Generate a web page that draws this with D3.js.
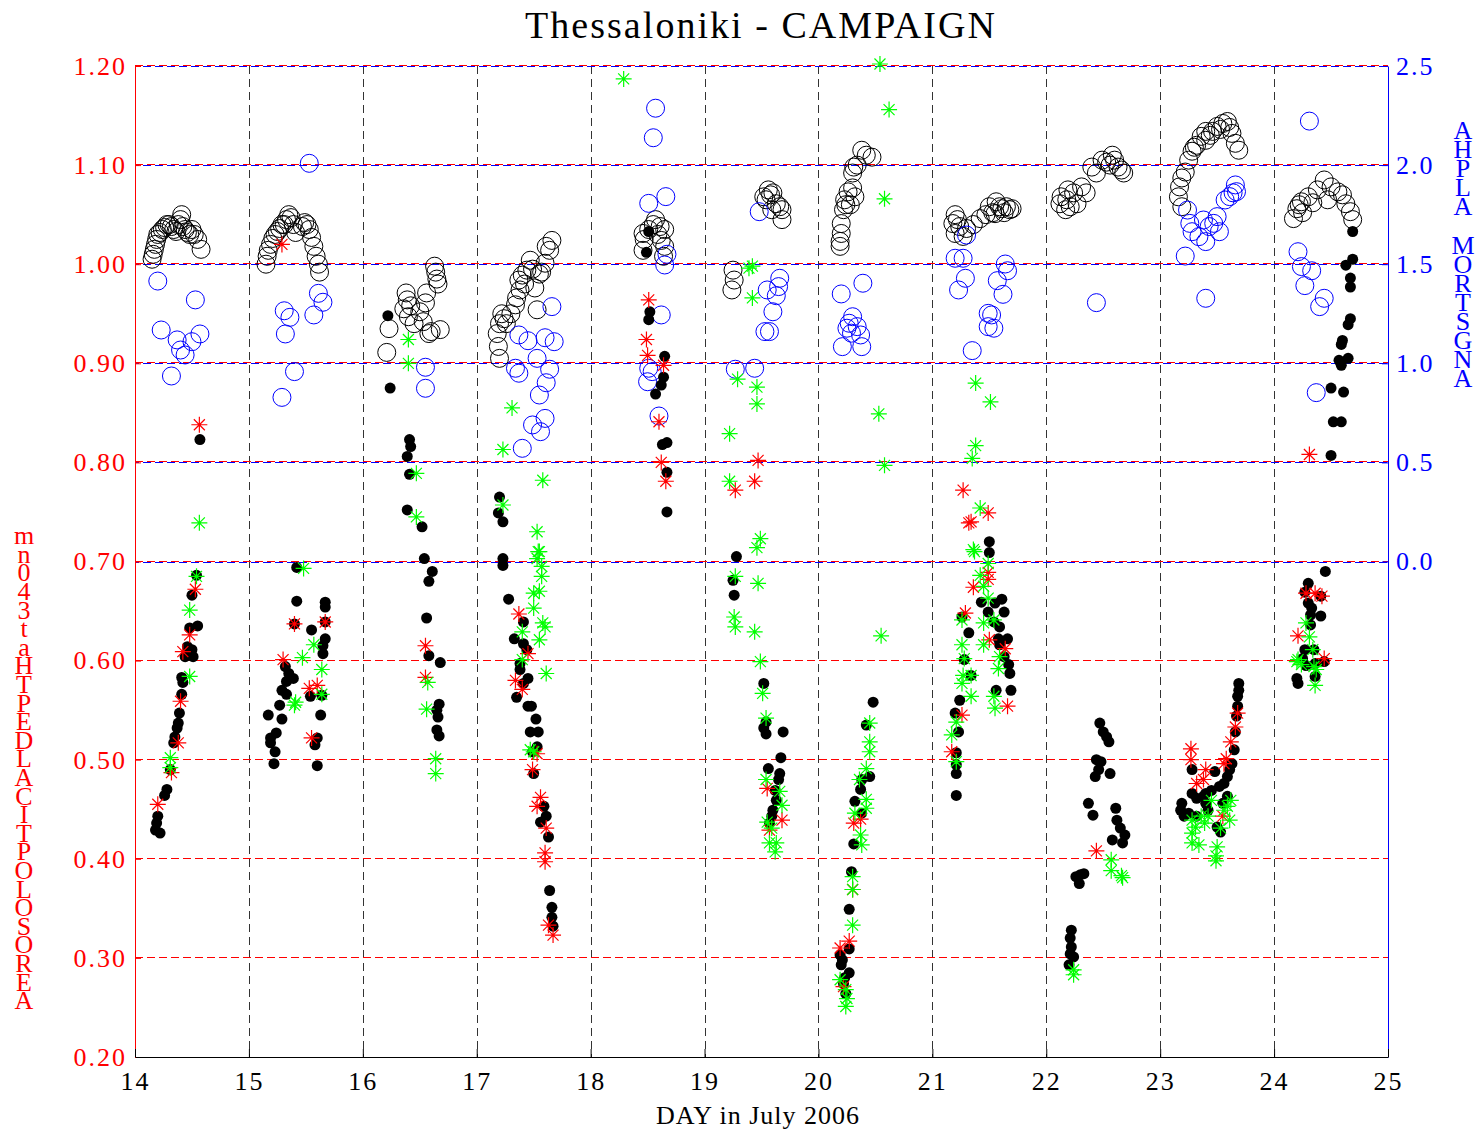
<!DOCTYPE html>
<html>
<head>
<meta charset="utf-8">
<script src="https://cdn.jsdelivr.net/npm/d3@7"></script>
<style>
  body { margin: 0; background: #fff; }
  svg { display: block; }
  text { font-family: "Liberation Serif", "Times New Roman", serif; }
</style>
</head>
<body>
<div id="container"></div>
<script>
// tick values
var dayTicks = [14, 15, 16, 17, 18, 19, 20, 21, 22, 23, 24, 25];
var aodTicks = [0.2, 0.3, 0.4, 0.5, 0.6, 0.7, 0.8, 0.9, 1.0, 1.1, 1.2];
var alphaTicks = [0.0, 0.5, 1.0, 1.5, 2.0, 2.5];

// black open circles [day, value] (left axis)
var aodOpen = [
  [14.15,1.005],[14.16,1.01],[14.17,1.015],[14.18,1.02],[14.19,1.025],[14.20,1.03],[14.22,1.032],[14.24,1.035],[14.26,1.037],[14.28,1.04],[14.30,1.04],[14.32,1.038],[14.34,1.035],[14.36,1.033],[14.38,1.04],[14.40,1.045],[14.41,1.05],[14.42,1.038],[14.44,1.035],[14.46,1.032],[14.48,1.03],[14.50,1.035],[14.52,1.03],[14.55,1.025],[14.58,1.015],
  [15.15,1.0],[15.16,1.008],[15.17,1.014],[15.19,1.02],[15.21,1.026],[15.23,1.03],[15.25,1.033],[15.27,1.036],[15.29,1.04],[15.31,1.04],[15.33,1.045],[15.35,1.05],[15.37,1.047],[15.39,1.04],[15.41,1.032],[15.47,1.038],[15.49,1.042],[15.51,1.04],[15.53,1.035],[15.55,1.027],[15.57,1.018],[15.59,1.008],[15.61,1.0],[15.62,0.992],
  [16.21,0.911],[16.23,0.935],[16.36,0.955],[16.38,0.971],[16.39,0.964],[16.40,0.947],[16.42,0.958],[16.45,0.94],[16.50,0.952],[16.53,0.942],[16.55,0.961],[16.56,0.971],[16.58,0.93],[16.60,0.932],[16.63,0.998],[16.64,0.992],[16.65,0.985],[16.66,0.98],[16.68,0.934],
  [17.18,0.93],[17.19,0.917],[17.20,0.905],[17.20,0.94],[17.22,0.95],[17.24,0.945],[17.26,0.94],[17.30,0.95],[17.34,0.959],[17.35,0.966],[17.37,0.984],[17.38,0.974],[17.40,0.989],[17.42,0.98],[17.44,0.994],[17.47,1.004],[17.49,0.995],[17.51,0.976],[17.53,0.954],[17.55,0.99],[17.57,0.992],[17.60,1.001],[17.61,1.018],[17.64,1.014],[17.66,1.024],
  [18.46,1.031],[18.47,1.025],[18.46,1.014],[18.51,1.035],[18.55,1.04],[18.57,1.045],[18.59,1.03],[18.61,1.038],[18.65,1.035],[18.62,1.024],[18.65,1.018],[18.64,1.008],
  [19.24,0.974],[19.25,0.994],[19.26,0.984],[19.52,1.068],[19.54,1.065],[19.56,1.075],[19.58,1.07],[19.59,1.055],[19.60,1.072],[19.63,1.061],[19.66,1.058],[19.68,1.055],[19.68,1.045],
  [20.19,1.023],[20.19,1.018],[20.20,1.031],[20.20,1.041],[20.22,1.055],[20.23,1.065],[20.24,1.06],[20.26,1.073],[20.28,1.06],[20.30,1.077],[20.32,1.068],[20.30,1.092],[20.31,1.098],[20.34,1.1],[20.38,1.115],[20.42,1.11],[20.47,1.108],
  [21.18,1.041],[21.20,1.05],[21.20,1.031],[21.22,1.045],[21.24,1.038],[21.27,1.028],[21.30,1.036],[21.36,1.04],[21.42,1.046],[21.47,1.05],[21.50,1.058],[21.53,1.052],[21.55,1.051],[21.56,1.063],[21.59,1.058],[21.61,1.056],[21.63,1.052],[21.65,1.058],[21.68,1.055],[21.70,1.056],
  [22.12,1.061],[22.13,1.068],[22.17,1.055],[22.18,1.065],[22.19,1.075],[22.21,1.058],[22.24,1.072],[22.27,1.061],[22.31,1.078],[22.35,1.072],[22.40,1.098],[22.44,1.092],[22.49,1.105],[22.53,1.103],[22.56,1.1],[22.58,1.11],[22.60,1.105],[22.63,1.098],[22.66,1.095],[22.68,1.092],
  [23.16,1.068],[23.17,1.078],[23.19,1.058],[23.19,1.087],[23.22,1.093],[23.25,1.105],[23.28,1.114],[23.30,1.118],[23.32,1.12],[23.36,1.129],[23.40,1.134],[23.40,1.125],[23.44,1.13],[23.46,1.134],[23.50,1.139],[23.53,1.136],[23.55,1.142],[23.59,1.144],[23.61,1.138],[23.63,1.132],[23.66,1.122],[23.69,1.115],
  [24.17,1.046],[24.20,1.056],[24.22,1.06],[24.24,1.063],[24.25,1.052],[24.30,1.068],[24.34,1.062],[24.38,1.075],[24.44,1.085],[24.47,1.065],[24.50,1.078],[24.56,1.073],[24.60,1.07],[24.63,1.061],[24.67,1.053],[24.69,1.045]
];

// blue open circles [day, alpha] (right axis)
var alpha = [
  [14.20,1.415],[14.53,1.32],[14.23,1.168],[14.37,1.118],[14.40,1.067],[14.44,1.042],[14.50,1.109],[14.57,1.148],[14.32,0.936],
  [15.53,2.009],[15.31,1.265],[15.36,1.232],[15.32,1.148],[15.61,1.353],[15.65,1.308],[15.57,1.244],[15.40,0.958],[15.29,0.828],
  [16.55,0.98],[16.55,0.874],
  [17.66,1.286],[17.37,1.143],[17.45,1.114],[17.60,1.129],[17.68,1.109],[17.53,1.025],[17.34,0.975],[17.37,0.95],[17.64,0.97],[17.61,0.902],[17.55,0.84],[17.60,0.722],[17.49,0.689],[17.56,0.655],[17.40,0.571],
  [18.57,2.287],[18.55,2.138],[18.51,1.807],[18.66,1.841],[18.67,1.55],[18.65,1.496],[18.62,1.244],[18.51,0.975],[18.54,0.958],[18.50,0.907],[18.60,0.734],
  [19.48,1.765],[19.66,1.429],[19.55,1.37],[19.65,1.387],[19.63,1.341],[19.60,1.26],[19.53,1.16],[19.57,1.16],[19.27,0.97],[19.44,0.975],
  [20.39,1.404],[20.20,1.35],[20.30,1.235],[20.27,1.202],[20.34,1.185],[20.25,1.177],[20.37,1.143],[20.29,1.152],[20.21,1.084],[20.38,1.084],
  [21.30,1.647],[21.20,1.53],[21.27,1.53],[21.29,1.429],[21.23,1.37],[21.64,1.501],[21.66,1.467],[21.57,1.417],[21.62,1.348],[21.49,1.252],[21.52,1.244],[21.49,1.185],[21.54,1.177],[21.35,1.064],
  [22.44,1.306],
  [23.22,1.541],[23.24,1.773],[23.26,1.706],[23.28,1.664],[23.34,1.639],[23.40,1.614],[23.38,1.723],[23.43,1.69],[23.47,1.706],[23.52,1.664],[23.50,1.74],[23.57,1.824],[23.61,1.841],[23.64,1.86],[23.66,1.9],[23.67,1.866],[23.40,1.328],
  [24.31,2.222],[24.21,1.563],[24.24,1.488],[24.33,1.467],[24.27,1.392],[24.44,1.328],[24.40,1.286],[24.37,0.852]
];

// black filled dots [day, aod]
var aod340 = [
  [14.57,0.823],[14.54,0.686],[14.50,0.666],[14.48,0.633],[14.55,0.635],[14.46,0.614],[14.50,0.611],[14.51,0.604],[14.44,0.604],[14.41,0.583],[14.42,0.578],[14.41,0.566],[14.39,0.547],[14.38,0.537],[14.37,0.532],[14.35,0.523],[14.34,0.517],[14.31,0.49],[14.28,0.47],[14.26,0.464],[14.20,0.443],[14.19,0.436],[14.18,0.429],[14.22,0.426],
  [15.42,0.694],[15.42,0.66],[15.67,0.659],[15.67,0.654],[15.40,0.637],[15.67,0.639],[15.55,0.631],[15.67,0.622],[15.65,0.615],[15.65,0.607],[15.32,0.594],[15.35,0.587],[15.39,0.582],[15.33,0.579],[15.29,0.57],[15.54,0.564],[15.64,0.565],[15.33,0.566],[15.27,0.555],[15.17,0.545],[15.63,0.545],[15.29,0.541],[15.24,0.527],[15.19,0.522],[15.19,0.517],[15.60,0.522],[15.58,0.515],[15.23,0.508],[15.22,0.496],[15.60,0.494],
  [16.22,0.948],[16.24,0.875],[16.41,0.823],[16.42,0.816],[16.39,0.806],[16.41,0.788],[16.39,0.752],[16.52,0.735],[16.54,0.703],[16.61,0.69],[16.58,0.68],[16.56,0.643],[16.58,0.605],[16.68,0.598],[16.67,0.556],[16.65,0.55],[16.66,0.543],[16.65,0.53],[16.67,0.524],
  [17.20,0.765],[17.19,0.749],[17.23,0.74],[17.23,0.703],[17.23,0.696],[17.28,0.662],[17.41,0.639],[17.33,0.622],[17.41,0.617],[17.44,0.611],[17.38,0.597],[17.38,0.591],[17.45,0.582],[17.41,0.577],[17.35,0.563],[17.45,0.554],[17.48,0.554],[17.52,0.541],[17.47,0.528],[17.54,0.528],[17.53,0.513],[17.49,0.508],[17.50,0.486],[17.59,0.453],[17.61,0.443],[17.56,0.437],[17.63,0.422],[17.64,0.368],[17.66,0.351],[17.66,0.341],[17.67,0.332],
  [18.51,1.033],[18.49,1.012],[18.52,0.952],[18.51,0.944],[18.65,0.907],[18.64,0.886],[18.62,0.878],[18.57,0.869],[18.67,0.82],[18.63,0.818],[18.67,0.79],[18.67,0.75],
  [19.28,0.705],[19.25,0.681],[19.26,0.666],[19.52,0.577],[19.54,0.538],[19.52,0.532],[19.54,0.526],[19.69,0.528],[19.67,0.502],[19.56,0.491],[19.66,0.486],[19.65,0.48],[19.62,0.469],[19.63,0.459],[19.60,0.449],[19.59,0.443],[19.57,0.436],
  [20.48,0.558],[20.42,0.535],[20.45,0.483],[20.38,0.48],[20.37,0.47],[20.32,0.458],[20.38,0.446],[20.31,0.415],[20.29,0.387],[20.27,0.349],[20.27,0.309],[20.19,0.303],[20.21,0.298],[20.20,0.293],[20.27,0.285],[20.23,0.28],[20.22,0.274],[20.24,0.264],
  [21.50,0.72],[21.50,0.709],[21.43,0.659],[21.55,0.658],[21.61,0.662],[21.63,0.649],[21.49,0.649],[21.54,0.639],[21.59,0.634],[21.58,0.622],[21.66,0.622],[21.59,0.616],[21.63,0.604],[21.67,0.596],[21.68,0.587],[21.56,0.57],[21.69,0.57],[21.26,0.644],[21.32,0.628],[21.28,0.601],[21.34,0.585],[21.24,0.56],[21.20,0.547],[21.23,0.528],[21.21,0.507],[21.21,0.495],[21.21,0.486],[21.21,0.464],
  [22.47,0.537],[22.50,0.528],[22.53,0.523],[22.55,0.518],[22.44,0.5],[22.48,0.498],[22.46,0.49],[22.43,0.483],[22.56,0.486],[22.37,0.456],[22.41,0.444],[22.61,0.451],[22.62,0.439],[22.65,0.431],[22.69,0.424],[22.58,0.419],[22.67,0.416],[22.26,0.382],[22.30,0.384],[22.29,0.375],[22.33,0.385],[22.22,0.328],[22.21,0.32],[22.22,0.311],[22.21,0.304],[22.24,0.301],[22.20,0.293],
  [23.69,0.577],[23.69,0.57],[23.68,0.564],[23.68,0.554],[23.67,0.544],[23.66,0.528],[23.65,0.51],[23.63,0.496],[23.61,0.49],[23.59,0.483],[23.56,0.476],[23.52,0.473],[23.48,0.488],[23.45,0.469],[23.40,0.466],[23.38,0.463],[23.32,0.461],[23.28,0.49],[23.28,0.466],[23.19,0.456],[23.18,0.449],[23.21,0.443],[23.25,0.446],[23.32,0.443],[23.55,0.456],[23.59,0.463],[23.50,0.432],[23.53,0.427],[23.42,0.449],[23.40,0.456],
  [24.69,1.033],[24.69,1.005],[24.63,0.999],[24.67,0.986],[24.67,0.977],[24.67,0.945],[24.65,0.939],[24.60,0.923],[24.59,0.919],[24.57,0.903],[24.65,0.905],[24.59,0.898],[24.50,0.875],[24.61,0.871],[24.52,0.841],[24.59,0.841],[24.50,0.807],
  [24.45,0.69],[24.30,0.678],[24.27,0.669],[24.41,0.665],[24.30,0.658],[24.33,0.653],[24.32,0.646],[24.41,0.645],[24.32,0.636],[24.27,0.611],[24.35,0.611],[24.25,0.602],[24.36,0.597],[24.44,0.599],[24.28,0.595],[24.36,0.584],[24.20,0.582],[24.21,0.577]
];

// red asterisks [day, aod]
var aodRed = [
  [14.565,0.838],[14.53,0.672],[14.48,0.626],[14.42,0.609],[14.40,0.559],[14.38,0.517],[14.32,0.487],[14.20,0.455],
  [15.29,1.02],[15.40,0.637],[15.30,0.601],[15.53,0.572],[15.67,0.639],[15.55,0.522],[15.60,0.575],
  [16.55,0.615],[16.55,0.583],
  [17.37,0.647],[17.45,0.607],[17.34,0.58],[17.40,0.571],[17.53,0.506],[17.49,0.49],[17.56,0.462],[17.53,0.453],[17.61,0.431],[17.60,0.406],[17.60,0.397],[17.63,0.333],[17.67,0.323],
  [18.51,0.964],[18.49,0.924],[18.50,0.908],[18.64,0.898],[18.60,0.841],[18.62,0.8],[18.66,0.781],
  [19.47,0.802],[19.27,0.772],[19.44,0.781],[19.55,0.471],[19.68,0.439],[19.57,0.429],
  [20.31,0.436],[20.37,0.44],[20.30,0.369],[20.27,0.317],[20.19,0.31],[20.22,0.271],
  [21.27,0.772],[21.49,0.749],[21.32,0.739],[21.34,0.74],[21.49,0.689],[21.49,0.682],[21.36,0.674],[21.29,0.648],[21.50,0.621],[21.64,0.612],[21.17,0.508],[21.66,0.554],[21.26,0.545],
  [22.44,0.408],
  [23.27,0.511],[23.27,0.5],[23.40,0.49],[23.38,0.48],[23.32,0.476],[23.56,0.496],[23.58,0.501],[23.62,0.518],[23.66,0.533],[23.68,0.547],[23.55,0.443],
  [24.31,0.808],[24.21,0.625],[24.28,0.668],[24.36,0.668],[24.42,0.665],[24.44,0.602]
];

// green asterisks [day, aod]
var aodGreen = [
  [14.565,0.739],[14.54,0.685],[14.48,0.651],[14.48,0.584],[14.31,0.502],[14.31,0.492],
  [15.48,0.693],[15.57,0.616],[15.47,0.603],[15.64,0.591],[15.64,0.566],[15.40,0.555],[15.41,0.558],
  [16.40,0.924],[16.40,0.9],[16.47,0.789],[16.47,0.745],[16.57,0.578],[16.56,0.551],[16.64,0.501],[16.64,0.486],
  [17.31,0.855],[17.23,0.813],[17.58,0.782],[17.23,0.757],[17.53,0.73],[17.55,0.71],[17.54,0.71],[17.53,0.703],[17.57,0.695],[17.57,0.685],[17.55,0.67],[17.50,0.668],[17.50,0.653],[17.58,0.638],[17.60,0.634],[17.55,0.621],[17.40,0.629],[17.40,0.601],[17.61,0.587],[17.47,0.51],[17.50,0.508],
  [18.29,1.187],
  [19.39,0.996],[19.42,0.998],[19.42,0.966],[19.29,0.884],[19.46,0.876],[19.46,0.859],[19.22,0.829],[19.22,0.781],[19.49,0.723],[19.46,0.714],[19.27,0.685],[19.47,0.678],[19.26,0.644],[19.27,0.634],[19.44,0.629],[19.49,0.599],[19.51,0.567],[19.54,0.542],[19.54,0.48],[19.66,0.468],[19.68,0.454],[19.55,0.437],[19.59,0.431],[19.57,0.416],[19.63,0.416],[19.62,0.407],
  [20.54,1.202],[20.62,1.156],[20.58,1.066],[20.53,0.849],[20.58,0.797],[20.55,0.625],[20.45,0.537],[20.45,0.518],[20.45,0.508],[20.42,0.491],[20.36,0.48],[20.42,0.46],[20.42,0.451],[20.32,0.446],[20.37,0.424],[20.38,0.414],[20.30,0.382],[20.30,0.369],[20.30,0.333],[20.19,0.278],[20.24,0.268],[20.25,0.259],[20.24,0.251],
  [21.38,0.88],[21.51,0.861],[21.38,0.817],[21.35,0.804],[21.42,0.754],[21.36,0.712],[21.37,0.71],[21.49,0.698],[21.42,0.686],[21.45,0.675],[21.49,0.663],[21.54,0.641],[21.45,0.638],[21.26,0.641],[21.45,0.616],[21.26,0.616],[21.59,0.604],[21.28,0.602],[21.58,0.592],[21.27,0.585],[21.34,0.585],[21.26,0.577],[21.34,0.564],[21.54,0.564],[21.55,0.552],[21.21,0.538],[21.17,0.525],[21.21,0.498],
  [22.57,0.399],[22.57,0.388],[22.67,0.381],[22.66,0.383],[22.24,0.288],[22.24,0.283],
  [23.45,0.459],[23.28,0.439],[23.31,0.432],[23.36,0.443],[23.39,0.436],[23.42,0.443],[23.28,0.426],[23.28,0.416],[23.34,0.414],[23.56,0.449],[23.59,0.453],[23.62,0.459],[23.61,0.439],[23.53,0.431],[23.50,0.412],[23.49,0.403],[23.49,0.398],
  [24.28,0.638],[24.31,0.624],[24.20,0.599],[24.24,0.596],[24.34,0.611],[24.35,0.594],[24.37,0.591],[24.36,0.575],[24.21,0.601]
];

var width = 1477,
    height = 1132;

var svg = d3.select("div#container")
    .append("svg")
    .attr("width", width)
    .attr("height", height);

var x = d3.scaleLinear().domain([14, 25]).range([135, 1388]);
var yL = d3.scaleLinear().domain([0.2, 1.2]).range([1057, 66]);
var yR = d3.scaleLinear().domain([-2.5, 2.5]).range([1057, 66]);

var plotTop = yL.range()[1],
    plotBottom = yL.range()[0];

//vertical day grid
svg.append("g").selectAll("line")
    .data(dayTicks.slice(1, -1))
    .enter().append("line")
    .attr("x1", d => Math.round(x(d)) + 0.5).attr("x2", d => Math.round(x(d)) + 0.5)
    .attr("y1", plotTop).attr("y2", plotBottom)
    .attr("stroke", "#333")
    .attr("stroke-dasharray", "8,5");

//red grid (left axis)
svg.append("g").selectAll("line")
    .data(aodTicks.slice(1))
    .enter().append("line")
    .attr("x1", x(14)).attr("x2", x(25))
    .attr("y1", d => Math.round(yL(d)) - 0.5)
    .attr("y2", d => Math.round(yL(d)) - 0.5)
    .attr("stroke", "#ff0000")
    .attr("stroke-dasharray", "8,4");

//blue grid (right axis)
svg.append("g").selectAll("line")
    .data(alphaTicks)
    .enter().append("line")
    .attr("x1", x(14)).attr("x2", x(25))
    .attr("y1", d => Math.round(yR(d)) + 0.5)
    .attr("y2", d => Math.round(yR(d)) + 0.5)
    .attr("stroke", "#0000ff")
    .attr("stroke-dasharray", "8,4")
    .attr("stroke-dashoffset", 4);

//axes
var fmt2 = d3.format(".2f"), fmt1 = d3.format(".1f");

var gLeft = svg.append("g")
    .attr("transform", "translate(" + x(14) + ",0)")
    .call(d3.axisLeft(yL).tickValues(aodTicks).tickFormat(fmt2)
        .tickSize(-6).tickSizeOuter(0).tickPadding(8));
gLeft.selectAll("path,line").attr("stroke", "#ff0000");
gLeft.selectAll("text").attr("fill", "#ff0000");

var gRight = svg.append("g")
    .attr("transform", "translate(" + x(25) + ",0)")
    .call(d3.axisRight(yR).tickValues(alphaTicks).tickFormat(fmt1)
        .tickSize(-6).tickSizeOuter(0).tickPadding(8));
gRight.selectAll("path,line").attr("stroke", "#0000ff");
gRight.selectAll("text").attr("fill", "#0000ff");

var gBottom = svg.append("g")
    .attr("transform", "translate(0," + plotBottom + ")")
    .call(d3.axisBottom(x).tickValues(dayTicks)
        .tickSize(-8).tickSizeOuter(0).tickPadding(15));
gBottom.selectAll("path,line").attr("stroke", "#000");
gBottom.selectAll("text").attr("fill", "#000");

svg.selectAll(".tick text")
    .style("font-family", "'Liberation Serif', serif")
    .style("font-size", "26px")
    .style("letter-spacing", "2px");

//markers
svg.append("g").selectAll("circle")
    .data(aodOpen)
    .enter().append("circle")
    .attr("cx", d => x(d[0])).attr("cy", d => yL(d[1]))
    .attr("r", 9)
    .attr("fill", "none")
    .attr("stroke", "#000");

svg.append("g").selectAll("circle")
    .data(alpha)
    .enter().append("circle")
    .attr("cx", d => x(d[0])).attr("cy", d => yR(d[1]))
    .attr("r", 9)
    .attr("fill", "none")
    .attr("stroke", "#0000ff");

svg.append("g").selectAll("circle")
    .data(aod340)
    .enter().append("circle")
    .attr("cx", d => x(d[0])).attr("cy", d => yL(d[1]))
    .attr("r", 5.5)
    .attr("fill", "#000");

var star = "M-8,0H8M0,-8V8M-5.5,-5.5L5.5,5.5M-5.5,5.5L5.5,-5.5";

function drawStars(data, color) {
    svg.append("g").selectAll("path")
        .data(data)
        .enter().append("path")
        .attr("transform", d => "translate(" + x(d[0]) + "," + yL(d[1]) + ")")
        .attr("d", star)
        .attr("fill", "none")
        .attr("stroke", color)
        .attr("stroke-width", 1.2);
}
drawStars(aodRed, "#ff0000");
drawStars(aodGreen, "#00ff00");

//title and labels
svg.append("text")
    .attr("x", 760).attr("y", 38)
    .attr("text-anchor", "middle")
    .attr("textLength", 470)
    .attr("lengthAdjust", "spacing")
    .style("font-size", "38px")
    .text("Thessaloniki - CAMPAIGN");

svg.append("text")
    .attr("x", 758).attr("y", 1124)
    .attr("text-anchor", "middle")
    .style("font-size", "26px")
    .style("letter-spacing", "1px")
    .text("DAY in July 2006");

//stacked vertical labels, read from bottom to top
function stackedLabel(str, cx, yTop, yBottom, color) {
    var chars = str.split("").reverse();
    var step = (yBottom - yTop) / (chars.length - 1);
    svg.append("g").selectAll("text")
        .data(chars)
        .enter().append("text")
        .attr("x", cx)
        .attr("y", (d, i) => yTop + i * step)
        .attr("dy", "0.35em")
        .attr("text-anchor", "middle")
        .attr("fill", color)
        .style("font-size", "26px")
        .text(d => d);
}
stackedLabel("AEROSOLOPTICALDEPTHat340nm", 24, 535, 1000, "#ff0000");
stackedLabel("ANGSTROM ALPHA", 1463, 130, 378, "#0000ff");
</script>
</body>
</html>
